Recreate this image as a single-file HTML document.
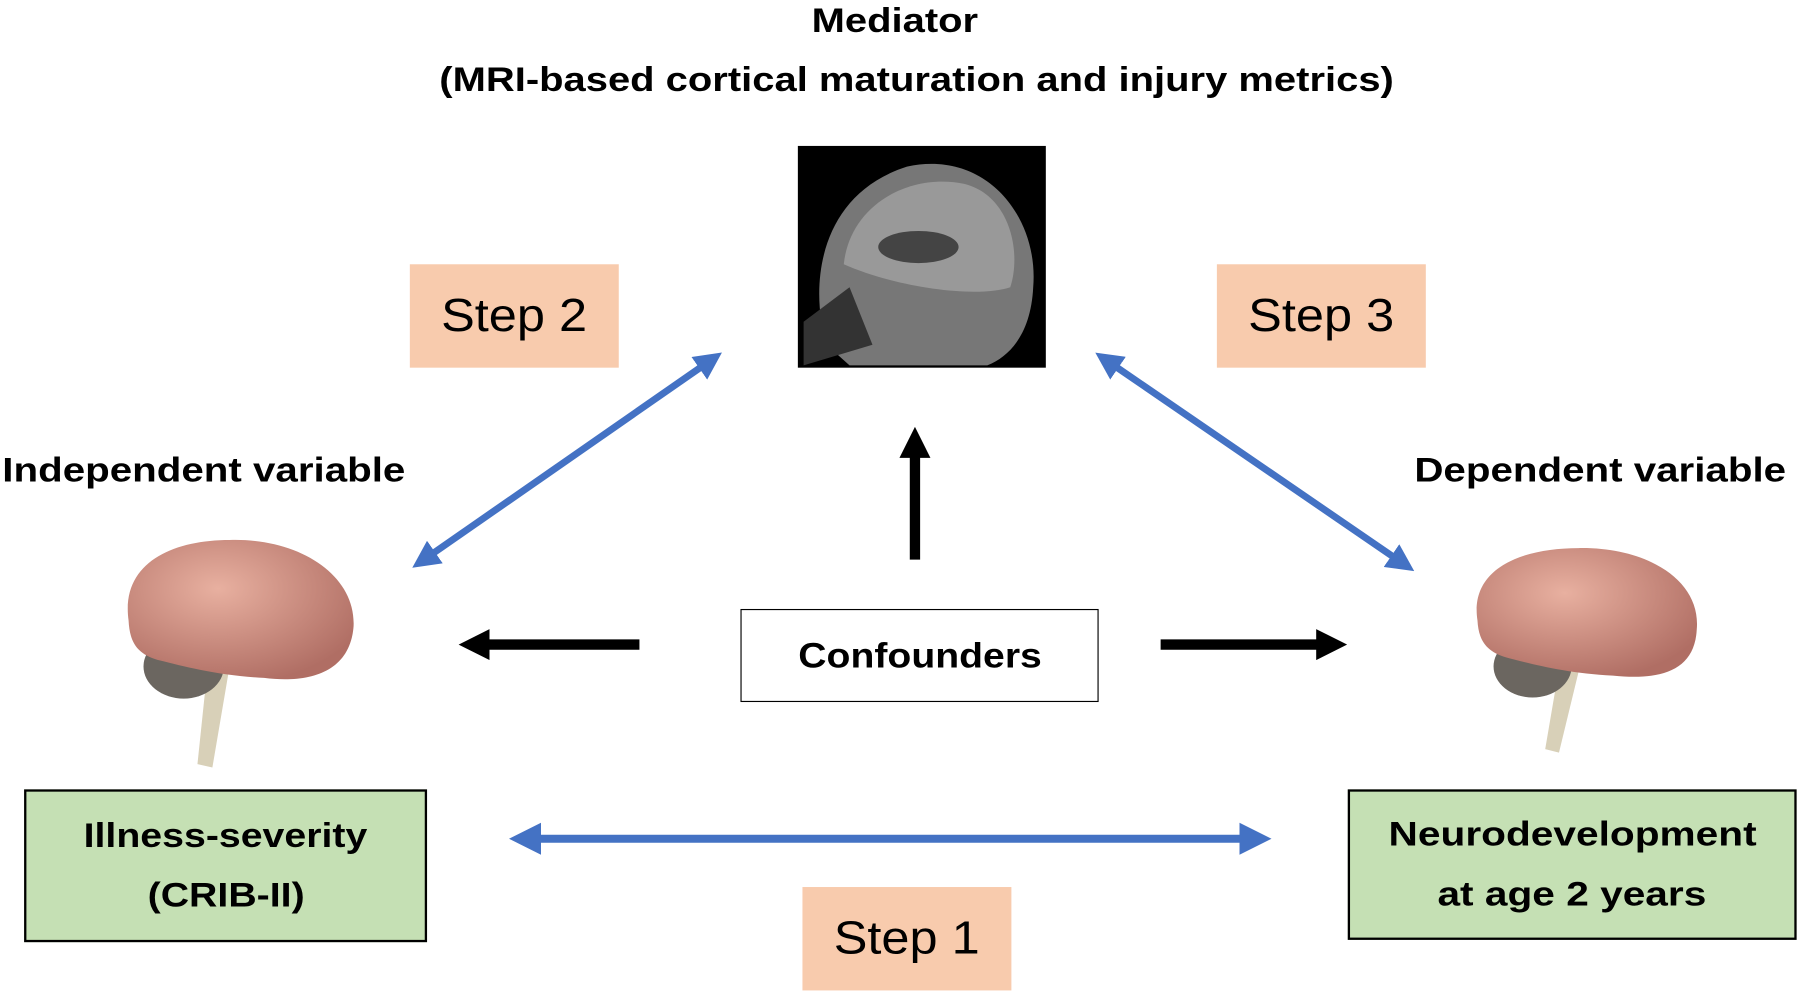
<!DOCTYPE html>
<html><head><style>
html,body{margin:0;padding:0;background:#fff;}
#wrap{width:1568px;height:866px;position:relative;transform:scale(1.148,1.149);transform-origin:0 0;font-family:"Liberation Sans",sans-serif;}
.t{position:absolute;font-weight:bold;color:#000;white-space:nowrap;}
.s{display:inline-block;}
.step{position:absolute;background:#f8cbad;width:182px;height:90px;display:flex;align-items:center;justify-content:center;font-size:40px;color:#000;}
.g{position:absolute;background:#c5e0b4;border:2px solid #000;display:flex;flex-direction:column;align-items:center;justify-content:center;font-weight:bold;font-size:30px;line-height:52px;}
</style></head><body><div id="wrap">
<div class="t" style="left:0;width:1560px;text-align:center;top:2px;font-size:30px;"><span class="s" style="transform:scaleX(1.16)">Mediator</span></div>
<div class="t" style="left:0;width:1596px;text-align:center;top:53px;font-size:30px;"><span class="s" style="transform:scaleX(1.16)">(MRI-based cortical maturation and injury metrics)</span></div>
<div class="t" style="left:2px;top:393px;font-size:30px;"><span class="s" style="transform:scaleX(1.17);transform-origin:0 0">Independent variable</span></div>
<div class="t" style="left:1232px;top:393px;font-size:30px;"><span class="s" style="transform:scaleX(1.17);transform-origin:0 0">Dependent variable</span></div>
<div class="step" style="left:357px;top:230px;"><span class="s" style="transform:scaleX(1.1)">Step 2</span></div>
<div class="step" style="left:1060px;top:230px;"><span class="s" style="transform:scaleX(1.1)">Step 3</span></div>
<div class="step" style="left:699px;top:772px;"><span class="s" style="transform:scaleX(1.1)">Step 1</span></div>
<div style="position:absolute;left:645px;top:530px;width:310px;height:79px;border:1.5px solid #000;display:flex;align-items:center;justify-content:center;font-weight:bold;font-size:31px;"><span class="s" style="transform:scaleX(1.1)">Confounders</span></div>
<div class="g" style="left:21px;top:687px;width:347px;height:129px;"><div><span class="s" style="transform:scaleX(1.14)">Illness-severity</span></div><div><span class="s" style="transform:scaleX(1.14)">(CRIB-II)</span></div></div>
<div class="g" style="left:1174px;top:687px;width:387px;height:127px;"><div><span class="s" style="transform:scaleX(1.18)">Neurodevelopment</span></div><div><span class="s" style="transform:scaleX(1.18)">at age 2 years</span></div></div>
<svg width="1568" height="866" style="position:absolute;left:0;top:0">
<defs>
<marker id="b" markerWidth="4" markerHeight="4" refX="2.2" refY="2" orient="auto-start-reverse" markerUnits="strokeWidth"><path d="M0,0L4,2L0,4z" fill="#4472c4"/></marker>
<marker id="k" markerWidth="3" markerHeight="3" refX="1.5" refY="1.5" orient="auto" markerUnits="strokeWidth"><path d="M0,0L3,1.5L0,3z" fill="#000"/></marker>
<radialGradient id="pk" cx="40%" cy="35%" r="70%"><stop offset="0" stop-color="#e8b0a0"/><stop offset="1" stop-color="#b06e64"/></radialGradient>
</defs>
<rect x="695" y="127" width="216" height="193" fill="#000"/>
<path d="M720,300 C705,250 712,170 790,145 C860,130 905,190 900,250 C898,290 880,310 860,318 L740,318 Z" fill="#777"/>
<path d="M735,230 C740,180 790,150 840,160 C880,170 890,220 880,250 C850,260 780,250 735,230Z" fill="#999"/>
<ellipse cx="800" cy="215" rx="35" ry="14" fill="#444"/>
<path d="M700,280 L740,250 L760,300 L700,318Z" fill="#333"/>
<line x1="368" y1="488" x2="620" y2="313" stroke="#4472c4" stroke-width="6" marker-start="url(#b)" marker-end="url(#b)"/>
<line x1="963" y1="313" x2="1223" y2="491" stroke="#4472c4" stroke-width="6" marker-start="url(#b)" marker-end="url(#b)"/>
<line x1="456" y1="730" x2="1095" y2="730" stroke="#4472c4" stroke-width="7" marker-start="url(#b)" marker-end="url(#b)"/>
<line x1="797" y1="487" x2="797" y2="385" stroke="#000" stroke-width="9" marker-end="url(#k)"/>
<line x1="557" y1="561" x2="413" y2="561" stroke="#000" stroke-width="9" marker-end="url(#k)"/>
<line x1="1011" y1="561" x2="1160" y2="561" stroke="#000" stroke-width="9" marker-end="url(#k)"/>
<g>
<path d="M183,560 L200,580 L185,668 L172,665 Z" fill="#d8d0b8"/>
<ellipse cx="160" cy="580" rx="35" ry="28" fill="#6b6660"/>
<path d="M112,540 C105,490 150,470 200,470 C260,468 310,500 308,545 C305,585 270,595 230,590 C190,588 160,580 140,575 C120,570 113,560 112,540Z" fill="url(#pk)"/>
</g>
<g>
<path d="M1360,570 L1375,585 L1358,655 L1346,652 Z" fill="#d8d0b8"/>
<ellipse cx="1335" cy="580" rx="34" ry="27" fill="#6b6660"/>
<path d="M1287,540 C1280,495 1325,477 1375,477 C1435,476 1482,505 1478,548 C1476,585 1445,592 1405,588 C1365,586 1335,578 1315,573 C1295,568 1288,558 1287,540Z" fill="url(#pk)"/>
</g>
</svg>
</div></body></html>
